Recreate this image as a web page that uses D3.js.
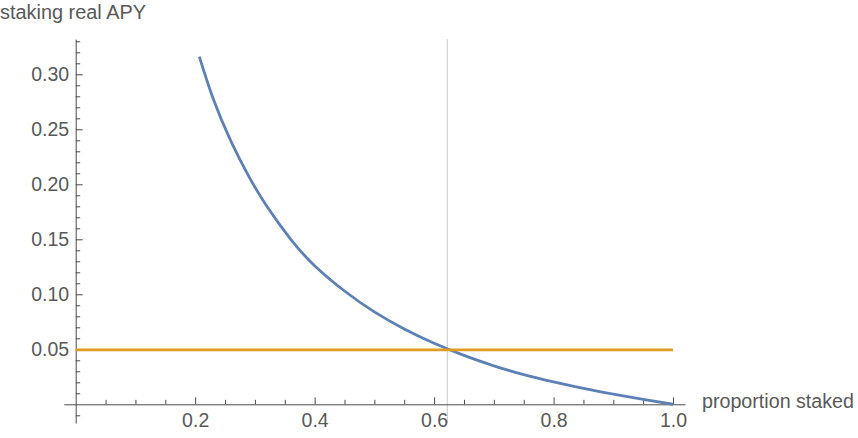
<!DOCTYPE html>
<html>
<head>
<meta charset="utf-8">
<script src="https://cdn.jsdelivr.net/npm/d3@7"></script>
<style>
  html, body { margin: 0; padding: 0; background: #fff; }
  svg { display: block; }
  text { font-family: "Liberation Sans", Arial, Helvetica, sans-serif; fill: #595959; }
</style>
</head>
<body>
<svg id="chart" width="858" height="438"></svg>
<script>
// ---- data ----
const proportionStaked = [0.207, 0.23, 0.26, 0.29, 0.32, 0.36, 0.40, 0.45, 0.50, 0.55, 0.60, 0.65, 0.70, 0.75, 0.80, 0.85, 0.90, 0.95, 1.00];
const stakingRealAPY   = [0.316, 0.278, 0.239, 0.207, 0.180, 0.150, 0.126, 0.103, 0.084, 0.0685, 0.0555, 0.0445, 0.035, 0.027, 0.0203, 0.0144, 0.0092, 0.0044, 0.0];
const thresholdAPY = 0.0495;          // horizontal orange line
const crossingProportion = 0.622;     // vertical grey line
const xMajorTicks = [0.2, 0.4, 0.6, 0.8, 1.0];
const xMajorLabels = ["0.2", "0.4", "0.6", "0.8", "1.0"];
const xMinorTicks = [0.05, 0.1, 0.15, 0.25, 0.3, 0.35, 0.45, 0.5, 0.55, 0.65, 0.7, 0.75, 0.85, 0.9, 0.95];
const yMajorTicks = [0.05, 0.10, 0.15, 0.20, 0.25, 0.30];
const yMajorLabels = ["0.05", "0.10", "0.15", "0.20", "0.25", "0.30"];
const yMinorTicks = [-0.01, 0.01, 0.02, 0.03, 0.04, 0.06, 0.07, 0.08, 0.09, 0.11, 0.12, 0.13, 0.14, 0.16, 0.17, 0.18, 0.19, 0.21, 0.22, 0.23, 0.24, 0.26, 0.27, 0.28, 0.29, 0.31, 0.32, 0.33];
const xAxisTitle = "proportion staked";
const yAxisTitle = "staking real APY";

// ---- layout ----
const svg = d3.select("#chart");
const x = d3.scaleLinear().domain([-0.02, 1.02]).range([63.75, 685.0]);
const y = d3.scaleLinear().domain([-0.017, 0.332]).range([423.0, 39.1]);
const FONT = 19.5;
const axisColor = "#4a4a4a";

// vertical reference line (under the curves)
svg.append("line")
  .attr("x1", x(crossingProportion)).attr("x2", x(crossingProportion))
  .attr("y1", y.range()[1]).attr("y2", y.range()[0])
  .attr("stroke", "#c8c8c8").attr("stroke-width", 1);

// ---- axes ----
function styleAxis(g) {
  g.selectAll(".domain").attr("stroke", axisColor).attr("stroke-width", 1);
  g.selectAll(".tick line").attr("stroke", axisColor).attr("stroke-width", 1);
  g.selectAll(".tick text").attr("fill", "#555555")
    .style("font-size", FONT + "px")
    .style("font-family", '"Liberation Sans", Arial, sans-serif');
}

// x axis (at y = 0)
svg.append("g").attr("transform", `translate(0,${y(0)})`)
  .call(d3.axisBottom(x).tickValues(xMajorTicks)
    .tickFormat((d, i) => xMajorLabels[i])
    .tickSizeInner(-7).tickSizeOuter(0).tickPadding(9))
  .call(styleAxis);
svg.append("g").attr("transform", `translate(0,${y(0)})`)
  .call(d3.axisBottom(x).tickValues(xMinorTicks).tickFormat("")
    .tickSizeInner(-4.5).tickSizeOuter(0))
  .call(g => g.select(".domain").remove())
  .call(styleAxis);

// y axis (at x = 0)
svg.append("g").attr("transform", `translate(${x(0)},0)`)
  .call(d3.axisLeft(y).tickValues(yMajorTicks)
    .tickFormat((d, i) => yMajorLabels[i])
    .tickSizeInner(-7).tickSizeOuter(0).tickPadding(6.5))
  .call(styleAxis);
svg.append("g").attr("transform", `translate(${x(0)},0)`)
  .call(d3.axisLeft(y).tickValues(yMinorTicks).tickFormat("")
    .tickSizeInner(-4.5).tickSizeOuter(0))
  .call(g => g.select(".domain").remove())
  .call(styleAxis);

// ---- series ----
const pts = proportionStaked.map((p, i) => [p, stakingRealAPY[i]]);
const line = d3.line().x(d => x(d[0])).y(d => y(d[1])).curve(d3.curveNatural);

svg.append("path")
  .datum(pts)
  .attr("d", line)
  .attr("fill", "none")
  .attr("stroke", "#5E81B5")
  .attr("stroke-width", 2.8)
  .attr("stroke-linejoin", "round");

svg.append("path")
  .datum([[0, thresholdAPY], [1, thresholdAPY]])
  .attr("d", d3.line().x(d => x(d[0])).y(d => y(d[1])))
  .attr("fill", "none")
  .attr("stroke", "#E19C24")
  .attr("stroke-width", 2.8);

// ---- axis titles ----
svg.append("text")
  .attr("x", 0).attr("y", 19)
  .style("font-size", FONT + "px")
  .attr("textLength", 146).attr("lengthAdjust", "spacingAndGlyphs")
  .text(yAxisTitle);

svg.append("text")
  .attr("x", 702).attr("y", 408)
  .style("font-size", FONT + "px")
  .attr("textLength", 152).attr("lengthAdjust", "spacingAndGlyphs")
  .text(xAxisTitle);
</script>
</body>
</html>
